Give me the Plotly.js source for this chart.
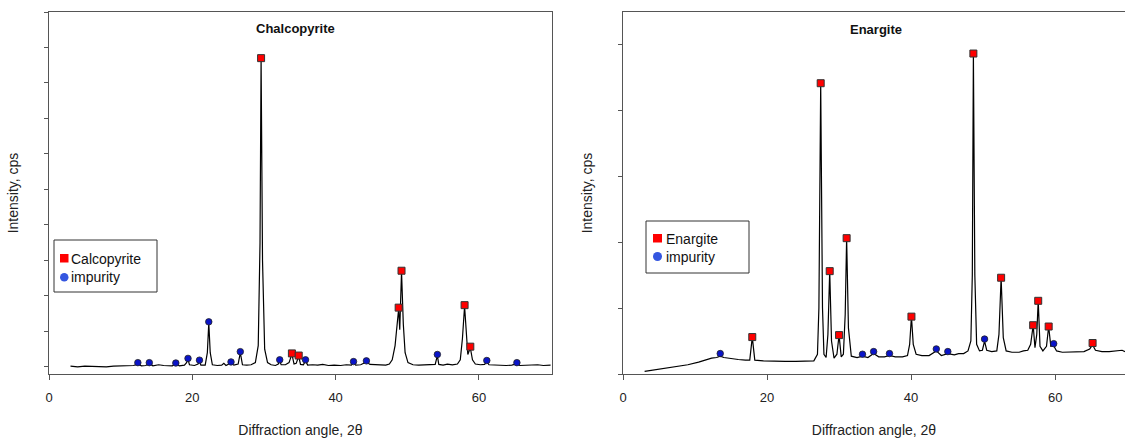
<!DOCTYPE html>
<html>
<head>
<meta charset="utf-8">
<script src="https://cdn.plot.ly/plotly-3.0.1.min.js"></script>
<style>html,body{margin:0;padding:0;background:#fff;}#chart{width:1125px;height:438px;}</style>
</head>
<body>
<div id="chart"></div>
<script>
// ---- Chalcopyrite pattern (left panel) ----
var chalX = [3,4,5,6,7,8,9,10,11,11.8,12.4,12.9,13.5,14.0,14.5,15.3,16.0,16.6,17.2,17.7,18.2,18.9,19.2,19.4,19.6,20.3,20.8,21.0,21.2,21.8,22.1,22.3,22.5,22.8,23.5,24.1,24.4,24.7,25.4,25.8,26.4,26.7,27.0,27.6,28.2,28.8,29.2,29.45,29.6,29.8,30.1,30.5,31.0,31.6,32.0,32.2,32.4,33.0,33.5,33.9,34.2,34.5,34.85,35.1,35.5,35.8,36.1,36.8,37.5,38.2,39.0,39.8,40.7,41.5,42.2,42.5,42.8,43.5,44.3,44.8,45.6,46.3,47.0,47.5,47.9,48.3,48.6,48.8,48.95,49.2,49.45,49.7,50.1,50.8,51.6,52.5,53.4,53.9,54.2,54.4,55.0,55.6,56.3,57.0,57.4,57.7,58.0,58.25,58.45,58.8,59.1,59.5,60.2,60.8,61.1,61.4,62.2,63.0,63.8,64.6,65.3,65.7,66.5,67.3,68.2,69.0,70.0];
var chalY = [0.02,0.0,0.02,0.01,0.02,0.0,0.02,0.02,0.03,0.04,0.08,0.03,0.04,0.09,0.03,0.06,0.04,0.03,0.03,0.08,0.03,0.05,0.12,0.21,0.06,0.04,0.08,0.16,0.05,0.05,0.4,1.24,0.4,0.06,0.04,0.05,0.1,0.04,0.11,0.05,0.08,0.4,0.06,0.05,0.06,0.12,0.6,3.5,8.68,3.0,0.5,0.12,0.06,0.04,0.08,0.17,0.06,0.06,0.12,0.36,0.08,0.1,0.3,0.07,0.06,0.17,0.05,0.06,0.05,0.07,0.04,0.05,0.04,0.06,0.05,0.12,0.05,0.06,0.14,0.07,0.06,0.07,0.05,0.08,0.2,0.6,1.3,1.64,1.05,2.68,1.2,0.4,0.12,0.06,0.05,0.06,0.05,0.07,0.32,0.07,0.05,0.08,0.06,0.08,0.2,0.8,1.71,0.9,0.35,0.54,0.2,0.08,0.06,0.07,0.15,0.06,0.05,0.06,0.04,0.05,0.09,0.04,0.05,0.04,0.06,0.04,0.05];
var chalPeakX = [29.6,33.9,34.85,48.8,49.2,58.0,58.8];
var chalPeakY = [8.70,0.38,0.32,1.67,2.71,1.74,0.57];
var chalImpX = [12.4,14.0,17.7,19.4,21.0,22.3,25.4,26.7,32.2,35.8,42.5,44.3,54.2,61.1,65.3];
var chalImpY = [0.12,0.12,0.11,0.24,0.19,1.27,0.14,0.43,0.20,0.20,0.15,0.17,0.35,0.18,0.12];

// ---- Enargite pattern (right panel) ----
var enarX = [3,6,9,10.5,11.5,12.3,13.0,13.5,14.0,15,16,17,17.6,17.95,18.3,19.5,21,22.5,24,25.5,26.5,27.0,27.2,27.45,27.7,27.9,28.2,28.45,28.7,28.95,29.3,29.7,30.0,30.3,30.6,30.85,31.05,31.3,31.7,32.5,33.25,34.0,34.8,35.5,36.3,37.0,37.8,38.8,39.5,39.8,40.05,40.3,40.7,41.5,42.5,43.5,44.2,45.1,46,46.6,47.3,47.9,48.3,48.5,48.65,48.85,49.1,49.5,49.9,50.2,50.5,51.2,51.9,52.2,52.5,52.8,53.2,54,55,55.6,56.2,56.6,56.95,57.2,57.45,57.65,57.9,58.3,58.8,59.1,59.4,59.8,60.2,61,62,63,64,64.8,65.2,65.6,66.5,67.5,68.5,69.3,69.7];
var enarY = [0.04,0.09,0.14,0.18,0.22,0.24,0.25,0.27,0.25,0.23,0.22,0.21,0.21,0.56,0.21,0.2,0.19,0.19,0.19,0.19,0.2,0.3,1.0,4.41,1.0,0.3,0.25,0.6,1.56,0.5,0.24,0.3,0.59,0.26,0.3,0.9,2.06,0.7,0.27,0.25,0.27,0.25,0.31,0.26,0.26,0.28,0.26,0.26,0.28,0.45,0.87,0.45,0.3,0.28,0.28,0.35,0.28,0.31,0.29,0.31,0.31,0.35,0.5,1.5,4.86,1.5,0.45,0.35,0.36,0.5,0.36,0.34,0.35,0.6,1.46,0.55,0.35,0.33,0.33,0.35,0.36,0.45,0.74,0.4,0.6,1.11,0.42,0.35,0.42,0.72,0.42,0.43,0.35,0.33,0.33,0.33,0.34,0.38,0.44,0.36,0.34,0.34,0.35,0.36,0.34];
var enarPeakX = [17.95,27.45,28.7,30.0,31.05,40.05,48.65,52.5,56.95,57.65,59.1,65.2];
var enarPeakY = [0.56,4.41,1.56,0.59,2.06,0.87,4.86,1.46,0.74,1.11,0.72,0.47];
var enarImpX = [13.5,33.25,34.8,37.0,43.5,45.1,50.2,59.8];
var enarImpY = [0.31,0.30,0.34,0.31,0.38,0.34,0.53,0.46];

var xTicks = [0,20,40,60];
var titles = ['Chalcopyrite','Enargite'];
var legendLabels = [['Calcopyrite','impurity'],['Enargite','impurity']];

// ---- geometry helpers (page pixels -> paper fractions) ----
var M = {l:49, r:0, t:12, b:64};
var W = 1125, H = 438;
var PW = W - M.l - M.r, PH = H - M.t - M.b;
function px(x){ return (x - M.l) / PW; }
function py(y){ return (H - M.b - y) / PH; }

var FONT = '"Liberation Sans", Arial, Helvetica, sans-serif';
var lineStyle = {color:'#000', width:1.2};
var sqMarker = {symbol:'square', size:7, color:'#ff0000', line:{color:'#333', width:1}};
var ciMarker = {symbol:'circle', size:6.5, color:'#0a14c8', line:{color:'#222', width:0.8}};

var traces = [
  {x:chalX, y:chalY, mode:'lines', line:lineStyle, xaxis:'x', yaxis:'y', showlegend:false, hoverinfo:'x+y'},
  {x:chalPeakX, y:chalPeakY, mode:'markers', marker:sqMarker, xaxis:'x', yaxis:'y', showlegend:false, name:legendLabels[0][0]},
  {x:chalImpX, y:chalImpY, mode:'markers', marker:ciMarker, xaxis:'x', yaxis:'y', showlegend:false, name:legendLabels[0][1]},
  {x:enarX, y:enarY, mode:'lines', line:lineStyle, xaxis:'x2', yaxis:'y2', showlegend:false, hoverinfo:'x+y'},
  {x:enarPeakX, y:enarPeakY, mode:'markers', marker:sqMarker, xaxis:'x2', yaxis:'y2', showlegend:false, name:legendLabels[1][0]},
  {x:enarImpX, y:enarImpY, mode:'markers', marker:ciMarker, xaxis:'x2', yaxis:'y2', showlegend:false, name:legendLabels[1][1]}
];

function xAxis(domain, range, anchor){
  return {domain:domain, range:range, anchor:anchor, tickmode:'array', tickvals:xTicks,
    ticks:'outside', ticklen:5, tickcolor:'#555', tickwidth:1, ticklabelstandoff:6,
    showline:true, mirror:true, linecolor:'#555', linewidth:1, showgrid:false, zeroline:false,
    tickfont:{size:13, color:'#222', family:FONT},
    title:{text:'Diffraction angle, 2θ', font:{size:14, color:'#222', family:FONT}, standoff:21}};
}
function yAxis(range, anchor){
  return {domain:[0,1], range:range, anchor:anchor, tick0:0, dtick:1,
    ticks:'outside', ticklen:4, tickcolor:'#555', tickwidth:1, showticklabels:false,
    showline:true, mirror:true, linecolor:'#555', linewidth:1, showgrid:false, zeroline:false,
    title:{text:'Intensity, cps', font:{size:14, color:'#222', family:FONT}}};
}

var shapes = [], annotations = [];
function legendBox(x0, y0, x1, y1, sq, ci, t1, t2, labels){
  shapes.push({type:'rect', xref:'paper', yref:'paper', x0:px(x0), x1:px(x1), y0:py(y1), y1:py(y0), line:{color:'#333', width:1}, fillcolor:'#fff', layer:'above'});
  shapes.push({type:'rect', xref:'paper', yref:'paper', x0:px(sq[0]), x1:px(sq[1]), y0:py(sq[3]), y1:py(sq[2]), line:{width:0}, fillcolor:'#ff0000', layer:'above'});
  shapes.push({type:'circle', xref:'paper', yref:'paper', x0:px(ci[0]), x1:px(ci[1]), y0:py(ci[3]), y1:py(ci[2]), line:{width:0}, fillcolor:'#3456e0', layer:'above'});
  annotations.push({xref:'paper', yref:'paper', x:px(t1[0]), y:py(t1[1]), xanchor:'left', yanchor:'middle', text:labels[0], showarrow:false, font:{size:14, color:'#111', family:FONT}, borderpad:0});
  annotations.push({xref:'paper', yref:'paper', x:px(t2[0]), y:py(t2[1]), xanchor:'left', yanchor:'middle', text:labels[1], showarrow:false, font:{size:14, color:'#111', family:FONT}, borderpad:0});
}
legendBox(54, 240, 157, 292, [60,68.5,254,262.5], [60,68.5,273,281.5], [70,258.5], [70,276.5], legendLabels[0]);
legendBox(646, 221, 749, 273, [653,662,234,242.5], [653,662,252,261], [665,239], [665,256.5], legendLabels[1]);

annotations.push({xref:'paper', yref:'paper', x:px(295), y:py(28), xanchor:'center', yanchor:'middle', text:'<b>'+titles[0]+'</b>', showarrow:false, font:{size:13, color:'#111', family:FONT}});
annotations.push({xref:'paper', yref:'paper', x:px(876), y:py(29), xanchor:'center', yanchor:'middle', text:'<b>'+titles[1]+'</b>', showarrow:false, font:{size:13, color:'#111', family:FONT}});

var layout = {
  width:W, height:H, margin:M, paper_bgcolor:'#fff', plot_bgcolor:'#fff',
  font:{family:FONT, color:'#222'}, showlegend:false,
  xaxis: xAxis([0, px(552)], [0,70.2], 'y'),
  yaxis: yAxis([-0.2,10], 'x'),
  xaxis2: xAxis([px(623), 1], [0,69.7], 'y2'),
  yaxis2: yAxis([0,5.49], 'x2'),
  shapes:shapes, annotations:annotations
};
Plotly.newPlot('chart', traces, layout, {displayModeBar:false, staticPlot:true});
</script>
</body>
</html>
